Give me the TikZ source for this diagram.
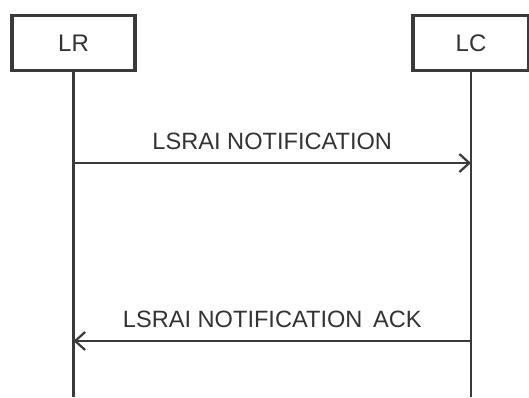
\documentclass[tikz,border=0pt]{standalone}
\usepackage{fontspec}
\setmainfont{Liberation Sans}
\usetikzlibrary{arrows.meta,positioning}
\definecolor{linegray}{HTML}{3A3A3C}
\definecolor{textgray}{HTML}{333333}
\tikzset{
	entity/.style={draw=linegray,line width=3.5pt,minimum height=55pt,inner sep=0pt,font=\fontsize{24}{28}\selectfont,text=textgray},
	lifeline/.style={draw=linegray,line width=2.4pt},
	msg/.style={draw=linegray,line width=2.2pt,-{Straight Barb[length=10pt,width=18pt,line width=2.2pt]}},
	msglabel/.style={font=\fontsize{23.6}{28}\selectfont,text=textgray}
}
\begin{document}
\begin{tikzpicture}[x=1pt,y=-1pt]
	\useasboundingbox (0,0) rectangle (529,397);
	\coordinate (bottom) at (0,397);
	\coordinate (notif) at (0,163);
	\coordinate (ack) at (0,341);
	% entities and their lifelines
	\foreach \name/\x/\w in {LR/73.5/123,LC/471/116}
	{
		\node[entity,minimum width=\w pt] (\name) at (\x,43) {\name};
		\draw[lifeline] (\name.south) -- (\name |- bottom);
	}
	% messages
	\draw[msg] (LR |- notif) -- node[msglabel,above=9pt] {LSRAI NOTIFICATION} (LC |- notif);
	\draw[msg] (LC |- ack) -- node[msglabel,above=9pt] {LSRAI NOTIFICATION\hspace{4pt} ACK} (LR |- ack);
\end{tikzpicture}
\end{document}
